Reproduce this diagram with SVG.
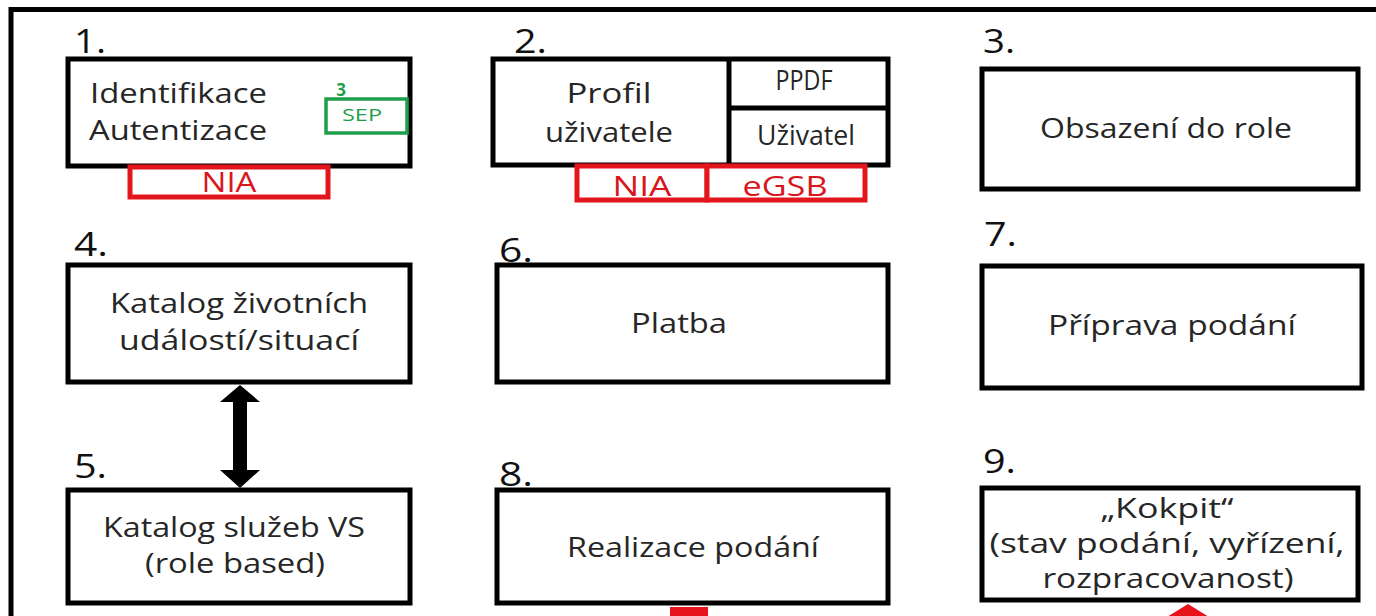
<svg xmlns="http://www.w3.org/2000/svg" width="1376" height="616" viewBox="0 0 1376 616">
<style>
text{font-family:"Open Sans","Noto Sans","Liberation Sans",sans-serif;fill:#262626}
.num{font-size:32px;fill:#111}
.t{font-size:28px;text-anchor:middle}
.l{font-size:28px}
.box{fill:#fff;stroke:#000;stroke-width:5}
.red{fill:#fff;stroke:#e3161d;stroke-width:5}
.rt{font-size:28px;fill:#d9161d;text-anchor:middle}
.grn{fill:none;stroke:#1f9e4c;stroke-width:3.5}
.gt{fill:#1f9e4c;text-anchor:middle}
</style>
<rect width="1376" height="616" fill="#fff"/>
<rect x="11" y="9.5" width="1420" height="700" fill="none" stroke="#000" stroke-width="5"/>

<g id="node1">
<text class="num" x="74" y="53" textLength="32" lengthAdjust="spacingAndGlyphs">1.</text>
<rect class="box" x="68" y="59" width="342" height="107"/>
<text class="l" x="90" y="103" textLength="177" lengthAdjust="spacingAndGlyphs">Identifikace</text>
<text class="l" x="89" y="140" textLength="178" lengthAdjust="spacingAndGlyphs">Autentizace</text>
<rect class="red" x="130" y="167" width="198" height="30"/>
<text class="rt" x="229" y="192" textLength="55" lengthAdjust="spacingAndGlyphs">NIA</text>
<text class="gt" x="341" y="96" font-size="17" font-weight="bold">3</text>
<rect class="grn" x="326" y="99" width="81" height="34"/>
<text class="gt" x="362" y="121" font-size="16" textLength="40" lengthAdjust="spacingAndGlyphs">SEP</text>
</g>

<g id="node2">
<text class="num" x="514" y="53" textLength="33" lengthAdjust="spacingAndGlyphs">2.</text>
<rect class="box" x="493" y="59" width="395" height="106"/>
<line x1="729" y1="59" x2="729" y2="165" stroke="#000" stroke-width="5"/>
<line x1="729" y1="108" x2="888" y2="108" stroke="#000" stroke-width="5"/>
<text class="t" x="609" y="103" textLength="85" lengthAdjust="spacingAndGlyphs">Profil</text>
<text class="t" x="609" y="142" textLength="128" lengthAdjust="spacingAndGlyphs">uživatele</text>
<text class="t" x="804" y="90" font-size="19" textLength="57" lengthAdjust="spacingAndGlyphs">PPDF</text>
<text class="t" x="806" y="145" font-size="21" textLength="98" lengthAdjust="spacingAndGlyphs">Uživatel</text>
<rect class="red" x="577" y="166" width="130" height="34"/>
<rect class="red" x="707" y="166" width="158" height="34"/>
<text class="rt" x="642" y="196" textLength="59" lengthAdjust="spacingAndGlyphs">NIA</text>
<text class="rt" x="785" y="196" textLength="85" lengthAdjust="spacingAndGlyphs">eGSB</text>
</g>

<g id="node3">
<text class="num" x="983" y="53" textLength="32" lengthAdjust="spacingAndGlyphs">3.</text>
<rect class="box" x="982" y="69" width="376" height="120"/>
<text class="t" x="1166" y="138" textLength="252" lengthAdjust="spacingAndGlyphs">Obsazení do role</text>
</g>

<g id="node4">
<text class="num" x="74" y="256" textLength="34" lengthAdjust="spacingAndGlyphs">4.</text>
<rect class="box" x="68" y="265" width="342" height="117"/>
<text class="t" x="239" y="313" textLength="258" lengthAdjust="spacingAndGlyphs">Katalog životních</text>
<text class="t" x="239" y="350" textLength="240" lengthAdjust="spacingAndGlyphs">událostí/situací</text>
</g>

<g id="node6">
<text class="num" x="499" y="262" textLength="34" lengthAdjust="spacingAndGlyphs">6.</text>
<rect class="box" x="497" y="265" width="391" height="117"/>
<text class="t" x="679" y="333" textLength="96" lengthAdjust="spacingAndGlyphs">Platba</text>
</g>

<g id="node7">
<text class="num" x="984" y="246" textLength="33" lengthAdjust="spacingAndGlyphs">7.</text>
<rect class="box" x="982" y="266" width="380" height="122"/>
<text class="t" x="1172" y="335" textLength="248" lengthAdjust="spacingAndGlyphs">Příprava podání</text>
</g>

<g id="node5">
<text class="num" x="74" y="478" textLength="33" lengthAdjust="spacingAndGlyphs">5.</text>
<rect class="box" x="68" y="490" width="342" height="113"/>
<text class="t" x="234" y="537" textLength="262" lengthAdjust="spacingAndGlyphs">Katalog služeb VS</text>
<text class="t" x="235" y="573" textLength="180" lengthAdjust="spacingAndGlyphs">(role based)</text>
</g>

<g id="node8">
<text class="num" x="499" y="486" textLength="34" lengthAdjust="spacingAndGlyphs">8.</text>
<rect class="box" x="497" y="490" width="391" height="113"/>
<text class="t" x="693" y="557" textLength="252" lengthAdjust="spacingAndGlyphs">Realizace podání</text>
</g>

<g id="node9">
<text class="num" x="983" y="473" textLength="33" lengthAdjust="spacingAndGlyphs">9.</text>
<rect class="box" x="982" y="488" width="376" height="112"/>
<text class="t" x="1167" y="518" textLength="133" lengthAdjust="spacingAndGlyphs">„Kokpit“</text>
<text class="t" x="1167" y="553" textLength="355" lengthAdjust="spacingAndGlyphs">(stav podání, vyřízení,</text>
<text class="t" x="1168" y="588" textLength="251" lengthAdjust="spacingAndGlyphs">rozpracovanost)</text>
</g>

<g id="connectors">
<path d="M240,385 L260,402 L247,402 L247,470 L260,470 L240,488 L220,470 L233,470 L233,402 L220,402 Z" fill="#000"/>
<rect x="670" y="607" width="38" height="20" fill="#e8141c"/>
<polygon points="1188,604 1222,625 1154,625" fill="#e8141c"/>
</g>
</svg>
